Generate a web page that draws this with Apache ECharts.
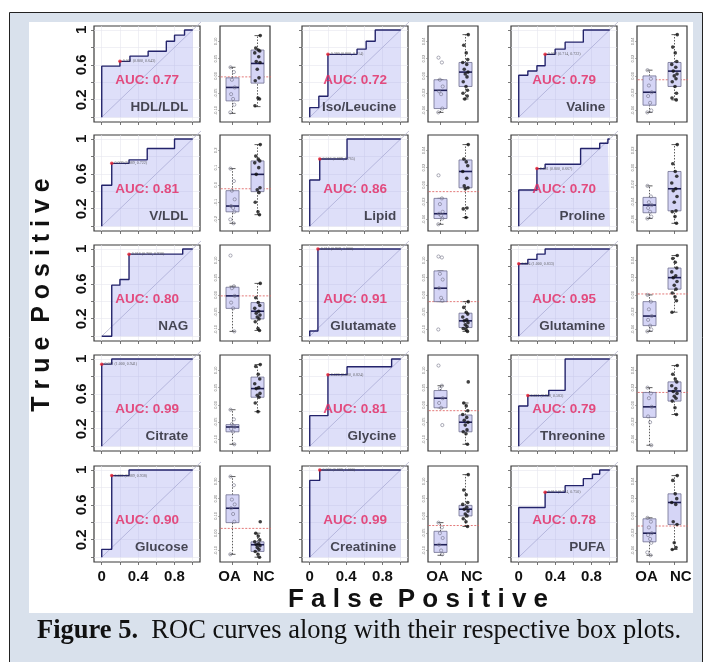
<!DOCTYPE html>
<html><head><meta charset="utf-8">
<script src="https://cdn.jsdelivr.net/npm/echarts@6/dist/echarts.min.js"></script>
<style>html,body{margin:0;padding:0;background:#fff}#c{width:705px;height:662px}</style>
</head><body><div id="c"></div>
<script>
// ---------------- DATA ----------------
const panelNames = ['HDL/LDL','Iso/Leucine','Valine','V/LDL','Lipid','Proline','NAG','Glutamate','Glutamine','Citrate','Glycine','Threonine','Glucose','Creatinine','PUFA'];
const aucValues = ['0.77','0.72','0.79','0.81','0.86','0.70','0.80','0.91','0.95','0.99','0.81','0.79','0.90','0.99','0.78'];

// ROC curves: [false positive rate, true positive rate]
const rocHDL = [[0,0],[0,0.585],[0.2,0.585],[0.2,0.64],[0.31,0.64],[0.31,0.70],[0.51,0.70],[0.51,0.755],[0.71,0.755],[0.71,0.87],[0.8,0.87],[0.8,0.94],[0.91,0.94],[0.91,1],[1,1]];
const rocIso = [[0,0],[0,0.11],[0.1,0.11],[0.1,0.24],[0.2,0.24],[0.2,0.72],[0.52,0.72],[0.52,0.78],[0.62,0.78],[0.62,0.87],[0.72,0.87],[0.72,1],[1,1]];
const rocValine = [[0,0],[0,0.48],[0.1,0.48],[0.1,0.53],[0.2,0.53],[0.2,0.59],[0.29,0.59],[0.29,0.72],[0.4,0.72],[0.4,0.78],[0.51,0.78],[0.51,0.86],[0.71,0.86],[0.71,1],[1,1]];
const rocVLDL = [[0,0],[0,0.47],[0.11,0.47],[0.11,0.72],[0.3,0.72],[0.3,0.76],[0.5,0.76],[0.5,0.89],[0.8,0.89],[0.8,1],[1,1]];
const rocLipid = [[0,0],[0,0.53],[0.11,0.53],[0.11,0.77],[0.41,0.77],[0.41,1],[1,1]];
const rocProline = [[0,0],[0,0.415],[0.2,0.415],[0.2,0.66],[0.29,0.66],[0.29,0.71],[0.68,0.71],[0.68,0.89],[0.89,0.89],[0.89,0.95],[0.98,0.95],[0.98,1],[1,1]];
const rocNAG = [[0,0],[0.11,0],[0.11,0.585],[0.2,0.585],[0.2,0.65],[0.3,0.65],[0.3,0.94],[0.89,0.94],[0.89,1],[1,1]];
const rocGlutamate = [[0,0],[0,0.06],[0.09,0.06],[0.09,1],[1,1]];
const rocGlutamine = [[0,0],[0,0.83],[0.1,0.83],[0.1,0.88],[0.2,0.88],[0.2,0.94],[0.29,0.94],[0.29,1],[1,1]];
const rocCitrate = [[0,0],[0,0.94],[0.11,0.94],[0.11,1],[1,1]];
const rocGlycine = [[0,0],[0,0.35],[0.2,0.35],[0.2,0.82],[0.41,0.82],[0.41,0.91],[0.9,0.91],[0.9,1],[1,1]];
const rocThreonine = [[0,0],[0,0.46],[0.1,0.46],[0.1,0.58],[0.33,0.58],[0.33,0.64],[0.51,0.64],[0.51,1],[1,1]];
const rocGlucose = [[0,0],[0,0.09],[0.11,0.09],[0.11,0.935],[0.3,0.935],[0.3,1],[1,1]];
const rocCreatinine = [[0,0],[0,0.88],[0.11,0.88],[0.11,1],[1,1]];
const rocPUFA = [[0,0],[0,0.57],[0.29,0.57],[0.29,0.745],[0.51,0.745],[0.51,0.82],[0.71,0.82],[0.71,0.9],[0.81,0.9],[0.81,0.95],[0.89,0.95],[0.89,1],[1,1]];
const rocCurves = [rocHDL,rocIso,rocValine,rocVLDL,rocLipid,rocProline,rocNAG,rocGlutamate,rocGlutamine,rocCitrate,rocGlycine,rocThreonine,rocGlucose,rocCreatinine,rocPUFA];

// optimal cut-off points and their printed labels
const optPoints = [[0.2,0.64],[0.2,0.72],[0.29,0.72],[0.11,0.72],[0.11,0.77],[0.2,0.66],[0.3,0.94],[0.09,1],[0,0.83],[0,0.94],[0.2,0.82],[0.1,0.58],[0.11,0.935],[0.11,1],[0.29,0.745]];
const optLabels = ['0.001 (0.800, 0.643)','0.380 (0.800, 0.714)','0.002 (0.714, 0.722)','0.009 (0.889, 0.722)','0.016 (0.889, 0.765)','0.001 (0.800, 0.667)','0.016 (0.700, 0.938)','0.010 (0.909, 1.000)','0.004 (1.000, 0.833)','0.021 (1.000, 0.941)','0.020 (0.800, 0.824)','0.001 (0.900, 0.583)','0.002 (0.889, 0.938)','0.003 (0.889, 1.000)','0.012 (0.714, 0.750)'];

// Box plot statistics (relative scale of each panel): [min, q1, median, q3, max]
const oaBoxes = [[0.09,0.22,0.36,0.46,0.57],[0.10,0.14,0.33,0.44,0.44],[0.10,0.175,0.31,0.48,0.54],[0.08,0.20,0.26,0.42,0.65],[0.07,0.13,0.18,0.34,0.34],[0.13,0.19,0.27,0.35,0.47],[0.10,0.34,0.47,0.56,0.57],[0.41,0.41,0.55,0.73,0.73],[0.10,0.16,0.26,0.41,0.48],[0.07,0.20,0.25,0.275,0.43],[0.45,0.45,0.55,0.63,0.68],[0.06,0.35,0.46,0.61,0.66],[0.08,0.41,0.56,0.70,0.89],[0.07,0.10,0.18,0.32,0.41],[0.07,0.21,0.30,0.45,0.46]];
const ncBoxes = [[0.16,0.405,0.61,0.75,0.90],[0.24,0.37,0.52,0.62,0.91],[0.23,0.37,0.53,0.62,0.91],[0.17,0.41,0.59,0.73,0.90],[0.14,0.45,0.62,0.74,0.90],[0.08,0.21,0.44,0.62,0.90],[0.11,0.23,0.31,0.40,0.60],[0.10,0.14,0.21,0.29,0.41],[0.30,0.54,0.66,0.76,0.89],[0.41,0.56,0.65,0.77,0.90],[0.07,0.20,0.30,0.375,0.50],[0.38,0.52,0.625,0.72,0.89],[0.05,0.11,0.18,0.21,0.30],[0.37,0.48,0.55,0.59,0.91],[0.13,0.39,0.62,0.71,0.90]];
const thresholds = [0.47,null,0.44,0.44,0.41,null,0.47,0.41,0.49,null,0.42,0.61,0.35,0.38,0.375];

const oaPoints = [[0.57,0.52,0.44,0.36,0.29,0.24,0.18,0.10],[0.67,0.62,0.44,0.37,0.32,0.29,0.14,0.10],[0.54,0.45,0.38,0.31,0.27,0.20,0.12,0.10],[0.65,0.52,0.42,0.33,0.26,0.24,0.20,0.12,0.08],[0.58,0.34,0.28,0.20,0.18,0.16,0.13,0.07],[0.47,0.36,0.30,0.27,0.24,0.20,0.15,0.13],[0.89,0.57,0.55,0.47,0.40,0.34,0.10],[0.88,0.87,0.70,0.64,0.55,0.45,0.42,0.12],[0.48,0.41,0.33,0.26,0.22,0.16,0.12,0.10],[0.43,0.33,0.28,0.25,0.23,0.20,0.07],[0.89,0.68,0.65,0.55,0.50,0.45,0.27],[0.66,0.60,0.55,0.46,0.36,0.30,0.06],[0.89,0.80,0.65,0.60,0.56,0.50,0.42,0.08],[0.41,0.36,0.30,0.25,0.18,0.12,0.08],[0.46,0.42,0.36,0.30,0.28,0.24,0.20,0.10,0.07]];
const ncPoints = [[0.90,0.77,0.75,0.74,0.72,0.68,0.63,0.62,0.55,0.46,0.43,0.25,0.24,0.17],[0.91,0.80,0.72,0.65,0.62,0.60,0.55,0.52,0.50,0.47,0.42,0.37,0.33,0.30,0.27,0.24],[0.91,0.78,0.72,0.63,0.60,0.57,0.53,0.50,0.48,0.45,0.42,0.37,0.30,0.25,0.23],[0.90,0.78,0.75,0.73,0.71,0.66,0.59,0.45,0.43,0.40,0.30,0.20,0.17],[0.90,0.75,0.72,0.68,0.62,0.55,0.47,0.45,0.44,0.24,0.23,0.14],[0.90,0.70,0.62,0.57,0.50,0.44,0.42,0.36,0.30,0.21,0.20,0.15,0.08],[0.60,0.45,0.40,0.37,0.34,0.31,0.29,0.27,0.25,0.23,0.20,0.13,0.11],[0.41,0.35,0.30,0.28,0.25,0.22,0.21,0.19,0.17,0.15,0.13,0.12,0.10],[0.89,0.86,0.82,0.76,0.72,0.68,0.66,0.62,0.58,0.54,0.50,0.46,0.42,0.30],[0.90,0.88,0.80,0.75,0.70,0.66,0.65,0.60,0.58,0.56,0.50,0.41],[0.72,0.50,0.47,0.42,0.38,0.35,0.32,0.30,0.27,0.22,0.20,0.18,0.07],[0.89,0.80,0.75,0.72,0.68,0.65,0.62,0.60,0.57,0.55,0.52,0.45,0.38],[0.42,0.30,0.27,0.23,0.21,0.19,0.18,0.17,0.15,0.13,0.11,0.08,0.05],[0.91,0.75,0.70,0.62,0.60,0.57,0.55,0.53,0.50,0.48,0.45,0.42,0.37],[0.90,0.85,0.71,0.66,0.62,0.60,0.42,0.39,0.20,0.15,0.13]];

const boxTickLabels = [['-0.10','-0.05','0.00','0.05','0.10'],['-0.04','-0.02','0.00','0.02','0.04'],['-0.04','-0.02','0.00','0.02','0.04'],['-0.2','-0.1','0.0','0.1','0.2'],['-0.04','-0.02','0.00','0.02','0.04'],['-0.06','-0.04','-0.02','0.00','0.02'],['-0.10','-0.05','0.00','0.05','0.10'],['-0.10','-0.05','0.00','0.05','0.10'],['-0.04','-0.02','0.00','0.02','0.04'],['-0.10','-0.05','0.00','0.05','0.10'],['-0.10','-0.05','0.00','0.05','0.10'],['-0.04','-0.02','0.00','0.02','0.04'],['-0.10','0.00','0.10','0.20','0.30'],['-0.10','-0.05','0.00','0.05','0.10'],['-0.04','-0.02','0.00','0.02','0.04']];
const groupLabels = ['OA','NC'];
const rocTicks = [0,0.2,0.4,0.6,0.8,1];
const rocXLabels = [0,0.4,0.8];
const rocYLabels = [0.2,0.6,1];
const boxTickPos = [0.12,0.30,0.48,0.66,0.84];

// ---------------- LAYOUT / STYLE ----------------
const SANS = '"Liberation Sans", Arial, sans-serif';
const SERIF = '"Liberation Serif", "Times New Roman", serif';
const ROC_LEFT = [94, 302, 511], ROC_W = 106;
const BOX_LEFT = [220, 428, 637], BOX_W = 50;
const ROW_TOP = [26, 135, 245, 355, 466], PANEL_H = 96;
const JITTER = [-0.10,0.07,-0.03,0.11,-0.07,0.03,0.09,-0.11,0.05,-0.05,0.10,-0.01,0.06,-0.09,0.02,0.08];
const GROUP_LABEL_POS = [-0.12, 1.25];
const AUC_POS = [0.5, 0.42], NAME_POS = [0.95, 0.11];

function renderBox(params, api) {
  const x = api.value(0);
  const p = [1,2,3,4,5].map(k => api.coord([x, api.value(k)]));
  const cx = p[0][0], hw = 6.5, cw = 3;
  const dot = {stroke:'#333', lineWidth:0.8, lineDash:[1.5,1.5]};
  const solid = {stroke:'#333', lineWidth:0.8};
  return {type:'group', children:[
    {type:'line', shape:{x1:cx,y1:p[3][1],x2:cx,y2:p[4][1]}, style:dot},
    {type:'line', shape:{x1:cx,y1:p[0][1],x2:cx,y2:p[1][1]}, style:dot},
    {type:'line', shape:{x1:cx-cw,y1:p[4][1],x2:cx+cw,y2:p[4][1]}, style:solid},
    {type:'line', shape:{x1:cx-cw,y1:p[0][1],x2:cx+cw,y2:p[0][1]}, style:solid},
    {type:'rect', shape:{x:cx-hw,y:p[3][1],width:2*hw,height:Math.max(p[1][1]-p[3][1],0.5)}, style:{fill:'#d5d5f6',stroke:'#707090',lineWidth:0.8}},
    {type:'line', shape:{x1:cx-hw,y1:p[2][1],x2:cx+hw,y2:p[2][1]}, style:{stroke:'#1f1f55',lineWidth:1.6}}
  ]};
}

const grid = [], xAxis = [], yAxis = [], series = [];
panelNames.forEach((name, i) => {
  const r = Math.floor(i / 3), c = i % 3, bottom = r === 4, first = c === 0;
  const gR = 2 * i, gB = 2 * i + 1;
  grid.push({left:ROC_LEFT[c], top:ROW_TOP[r], width:ROC_W, height:PANEL_H, show:true, backgroundColor:'#fff', borderColor:'#3a3a3a', borderWidth:1.2});
  grid.push({left:BOX_LEFT[c], top:ROW_TOP[r], width:BOX_W, height:PANEL_H, show:true, backgroundColor:'#fff', borderColor:'#3a3a3a', borderWidth:1.2});

  xAxis.push({type:'value', gridIndex:gR, min:-0.085, max:1.08,
    axisLine:{show:false, onZero:false},
    axisTick:{show:true, length:3, customValues:rocTicks, lineStyle:{color:'#555', width:0.8}},
    axisLabel:{show:bottom, customValues:rocXLabels, formatter:v => String(v), fontSize:15, fontWeight:'bold', color:'#111', margin:7, fontFamily:SANS},
    splitLine:{show:true, lineStyle:{color:'#e6e6ee', width:0.6}}});
  yAxis.push({type:'value', gridIndex:gR, min:-0.055, max:1.045,
    axisLine:{show:false, onZero:false},
    axisTick:{show:true, length:3, customValues:rocTicks, lineStyle:{color:'#555', width:0.8}},
    axisLabel:{show:first, customValues:rocYLabels, formatter:v => String(v), rotate:90, fontSize:15, fontWeight:'bold', color:'#111', margin:5, fontFamily:SANS},
    splitLine:{show:true, lineStyle:{color:'#e6e6ee', width:0.6}}});

  xAxis.push({type:'value', gridIndex:gB, min:-0.5, max:1.5,
    axisLine:{show:false, onZero:false},
    axisTick:{show:true, length:3, customValues:[0,1], lineStyle:{color:'#555', width:0.8}},
    axisLabel:{show:bottom, customValues:GROUP_LABEL_POS, formatter:v => groupLabels[v < 0.5 ? 0 : 1], fontSize:15, fontWeight:'bold', color:'#111', margin:7, fontFamily:SANS},
    splitLine:{show:false}});
  yAxis.push({type:'value', gridIndex:gB, min:0, max:1,
    axisLine:{show:false, onZero:false},
    axisTick:{show:true, length:2, customValues:boxTickPos, lineStyle:{color:'#777', width:0.6}},
    axisLabel:{show:true, customValues:boxTickPos, formatter:v => {
        let k = 0; boxTickPos.forEach((p, j) => { if (Math.abs(p - v) < Math.abs(boxTickPos[k] - v)) k = j; });
        return boxTickLabels[i][k]; }, rotate:90, fontSize:4, color:'#777', margin:2, fontFamily:SANS},
    splitLine:{show:false}});

  // ROC panel
  series.push({type:'line', xAxisIndex:gR, yAxisIndex:gR, data:[[0,0],[1.095,1.095]], clip:false, symbol:'none', silent:true, z:2,
    lineStyle:{color:'#b4b4cc', width:0.8}});
  series.push({type:'line', xAxisIndex:gR, yAxisIndex:gR, data:rocCurves[i], symbol:'none', silent:true, z:3,
    lineStyle:{color:'#23236b', width:1.4}, areaStyle:{color:'rgba(150,155,235,0.45)', origin:'auto'}});
  series.push({type:'scatter', xAxisIndex:gR, yAxisIndex:gR, data:[optPoints[i]], symbolSize:3.5, silent:true, z:5,
    itemStyle:{color:'#e8212f'},
    label:{show:true, position:'right', distance:1, formatter:optLabels[i], fontSize:4, color:'#444', fontFamily:SERIF}});
  series.push({type:'scatter', xAxisIndex:gR, yAxisIndex:gR, symbolSize:0, silent:true, z:6,
    data:[
      {value:AUC_POS, label:{show:true, position:'inside', formatter:'AUC: ' + aucValues[i], fontSize:13.5, fontWeight:'bold', color:'#e3265f', fontFamily:SANS}},
      {value:NAME_POS, label:{show:true, position:'left', distance:0, formatter:name, fontSize:13.5, fontWeight:'bold', color:'#1e1e28', fontFamily:SANS}}
    ]});

  // Box panel
  if (thresholds[i] !== null) {
    series.push({type:'line', xAxisIndex:gB, yAxisIndex:gB, data:[[-0.75, thresholds[i]],[1.8, thresholds[i]]], clip:false, symbol:'none', silent:true, z:1,
      lineStyle:{color:'#e06a6a', width:0.9, type:[2,1.5]}});
  }
  series.push({type:'custom', xAxisIndex:gB, yAxisIndex:gB, renderItem:renderBox, silent:true, z:3,
    encode:{x:0, y:[1,2,3,4,5]},
    data:[[0].concat(oaBoxes[i]), [1].concat(ncBoxes[i])]});
  series.push({type:'scatter', xAxisIndex:gB, yAxisIndex:gB, symbolSize:3.2, silent:true, z:4,
    itemStyle:{color:'rgba(255,255,255,0.1)', borderColor:'#6a6a80', borderWidth:0.7},
    data:oaPoints[i].map((v, k) => [JITTER[k % JITTER.length] * 0.8, v])});
  series.push({type:'scatter', xAxisIndex:gB, yAxisIndex:gB, symbolSize:3.6, silent:true, z:4,
    itemStyle:{color:'#111'},
    data:ncPoints[i].map((v, k) => [1 + JITTER[(k + 3) % JITTER.length], v])});
});

const chart = echarts.init(document.getElementById('c'), null, {renderer:'canvas', width:705, height:662});
chart.setOption({
  animation:false,
  backgroundColor:'#ffffff',
  grid, xAxis, yAxis, series,
  graphic:[
    {type:'rect', z:-20, silent:true, shape:{x:9.5, y:12.5, width:693, height:660}, style:{fill:'#d9e1ec', stroke:'#222', lineWidth:1}},
    {type:'rect', z:-19, silent:true, shape:{x:29, y:22, width:664, height:591}, style:{fill:'#ffffff'}},
    {type:'text', z:10, silent:true, x:418, y:600, style:{text:'F a l s e  P o s i t i v e', fill:'#111', font:'bold 26px "Liberation Sans", Arial, sans-serif', align:'center', verticalAlign:'middle'}},
    {type:'text', z:10, silent:true, x:42, y:295, rotation:Math.PI/2, style:{text:'T r u e  P o s i t i v e', fill:'#111', font:'bold 25px "Liberation Sans", Arial, sans-serif', align:'center', verticalAlign:'middle'}},
    {type:'text', z:10, silent:true, x:37, y:631, style:{text:'{b|Figure 5.}  ROC curves along with their respective box plots.', fill:'#111', font:'26.5px "Liberation Serif", "Times New Roman", serif', verticalAlign:'middle',
      rich:{b:{fontWeight:'bold', fontSize:26.5, fontFamily:SERIF, fill:'#111'}}}}
  ]
});
</script></body></html>
